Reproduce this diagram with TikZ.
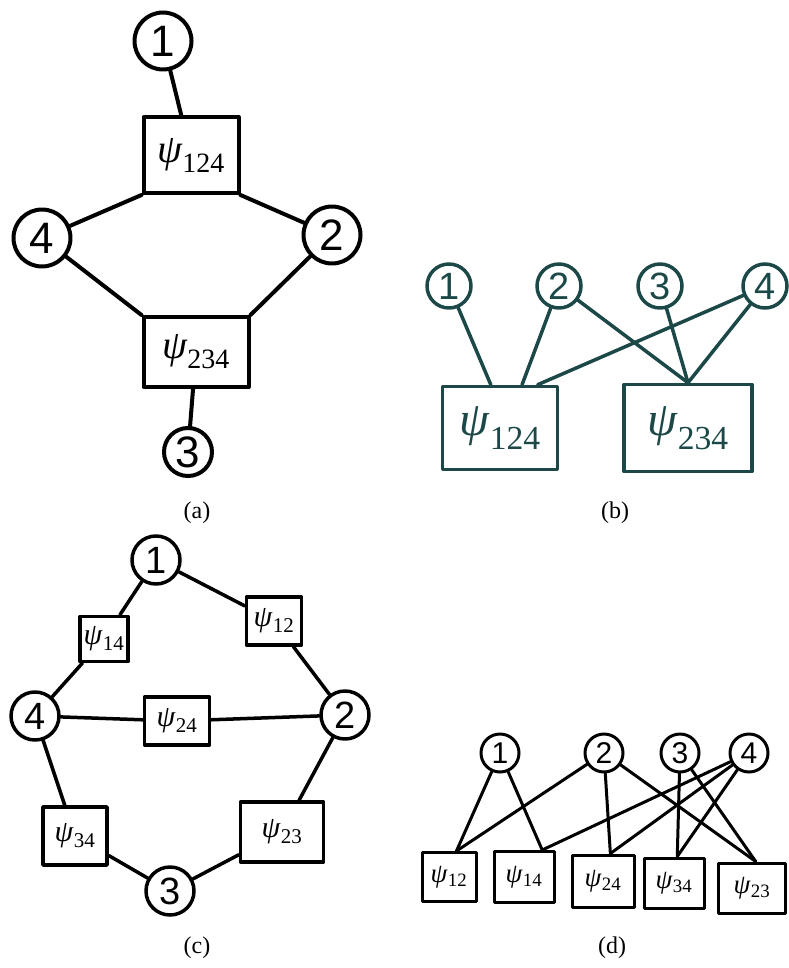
\documentclass[tikz,border=0pt]{standalone}
\usepackage{fontspec}
\setmainfont{Liberation Serif}
\setsansfont{Liberation Sans}
\usepackage{xcolor}
\usepackage{tikz}
\usetikzlibrary{positioning}
\definecolor{inkteal}{RGB}{28,72,72}
\newcommand{\fac}[1]{\textit{ψ}\textsubscript{#1}}
\tikzset{main node/.style={circle,fill=white,draw,minimum size=0.5cm,inner sep=0pt}}
\tikzset{factor node/.style={rectangle,fill=white,draw,minimum width=1cm,minimum height=1cm,inner sep=0pt}}
\tikzset{caption node/.style={font=\fontsize{24}{24}\selectfont}}

\begin{document}
\begin{tikzpicture}[x=1pt,y=-1pt,on grid,line cap=round,line join=round]
    \useasboundingbox (0,0) rectangle (788,968);

    % (a)
    \begin{scope}[line width=4pt,
        main node/.append style={minimum size=57pt,font=\sffamily\fontsize{44}{44}\selectfont},
        factor node/.append style={font=\fontsize{40}{40}\selectfont}]
    	\node[main node] (a_{1}) at (163,41) {1};
    	\node[factor node,minimum width=95pt,minimum height=76pt] (af_{124}) [below right=114pt and 28pt of a_{1}] {\fac{124}};
    	\node[main node] (a_{4}) [below left=83pt and 149pt of af_{124}] {4};
    	\node[main node] (a_{2}) [below right=80pt and 141pt of af_{124}] {2};
    	\node[factor node,minimum width=105pt,minimum height=70pt] (af_{234}) [below right=197pt and 5pt of af_{124}] {\fac{234}};
    	\node[main node,minimum size=48pt] (a_{3}) [below left=100pt and 8pt of af_{234}] {3};

    	\draw (a_{1}) -- (af_{124});
    	\draw (a_{4}) -- (af_{124}.south west);
    	\draw (af_{124}.south east) -- (a_{2});
    	\draw (a_{4}) -- (af_{234}.north west);
    	\draw (a_{2}) -- (af_{234}.north east);
    	\draw (af_{234}) -- (a_{3});
    \end{scope}

    % (b)
    \begin{scope}[color=inkteal,line width=3.5pt,
        main node/.append style={minimum size=44pt,font=\sffamily\fontsize{38}{38}\selectfont},
        factor node/.append style={font=\fontsize{48}{48}\selectfont}]
    	\node[main node] (b_{1}) at (449,286) {1};
    	\node[main node] (b_{2}) [right=110pt of b_{1}] {2};
    	\node[main node] (b_{3}) [right=101pt of b_{2}] {3};
    	\node[main node] (b_{4}) [right=105pt of b_{3}] {4};
    	\node[factor node,minimum width=115pt,minimum height=83pt] (bf_{124}) [below right=142pt and 51pt of b_{1}] {\fac{124}};
    	\node[factor node,minimum width=128pt,minimum height=87pt] (bf_{234}) [right=188pt of bf_{124}] {\fac{234}};

    	\draw (b_{1}) -- (bf_{124}.102);
    	\draw (b_{2}) -- (bf_{124}.63);
    	\draw (b_{4}) -- (bf_{124}.49);
    	\draw (b_{2}) -- (bf_{234}.north);
    	\draw (b_{3}) -- (bf_{234}.north);
    	\draw (b_{4}) -- (bf_{234}.north);
    \end{scope}

    % (c)
    \begin{scope}[line width=3.5pt,
        main node/.append style={minimum size=48pt,font=\sffamily\fontsize{38}{38}\selectfont},
        factor node/.append style={font=\fontsize{30}{30}\selectfont}]
    	\node[main node] (c_{1}) at (156,560) {1};
    	\node[factor node,minimum width=48pt,minimum height=45pt] (cf_{14}) [below left=79pt and 52pt of c_{1}] {\fac{14}};
    	\node[factor node,minimum width=55pt,minimum height=48pt] (cf_{12}) [below right=61pt and 118pt of c_{1}] {\fac{12}};
    	\node[main node] (c_{4}) [below left=77pt and 69pt of cf_{14}] {4};
    	\node[factor node,minimum width=65pt,minimum height=48pt] (cf_{24}) [below right=5pt and 142pt of c_{4}] {\fac{24}};
    	\node[main node] (c_{2}) [above right=6pt and 168pt of cf_{24}] {2};
    	\node[factor node,minimum width=64pt,minimum height=58pt] (cf_{34}) [below right=120pt and 40pt of c_{4}] {\fac{34}};
    	\node[factor node,minimum width=83pt,minimum height=60pt] (cf_{23}) [below left=117pt and 63pt of c_{2}] {\fac{23}};
    	\node[main node] (c_{3}) [below right=55pt and 95pt of cf_{34}] {3};

    	\draw (c_{1}) -- (cf_{14});
    	\draw (c_{1}) -- (cf_{12});
    	\draw (cf_{14}) -- (c_{4});
    	\draw (cf_{12}) -- (c_{2});
    	\draw (c_{4}) -- (cf_{24});
    	\draw (cf_{24}) -- (c_{2});
    	\draw (c_{4}) -- (cf_{34});
    	\draw (c_{2}) -- (cf_{23});
    	\draw (cf_{34}) -- (c_{3});
    	\draw (cf_{23}) -- (c_{3});
    \end{scope}

    % (d)
    \begin{scope}[line width=3pt,
        main node/.append style={minimum size=38pt,font=\sffamily\fontsize{30}{30}\selectfont},
        factor node/.append style={font=\fontsize{27}{27}\selectfont}]
    	\node[main node] (d_{1}) at (500,753) {1};
    	\node[main node] (d_{2}) [right=104pt of d_{1}] {2};
    	\node[main node] (d_{3}) [right=76pt of d_{2}] {3};
    	\node[main node] (d_{4}) [right=69pt of d_{3}] {4};
    	\node[factor node,minimum width=54pt,minimum height=49pt] (df_{12}) [below left=124pt and 51pt of d_{1}] {\fac{12}};
    	\node[factor node,minimum width=60pt,minimum height=51pt] (df_{14}) [right=75pt of df_{12}] {\fac{14}};
    	\node[factor node,minimum width=62pt,minimum height=52pt] (df_{24}) [below right=4pt and 79pt of df_{14}] {\fac{24}};
    	\node[factor node,minimum width=60pt,minimum height=50pt] (df_{34}) [below right=2pt and 71pt of df_{24}] {\fac{34}};
    	\node[factor node,minimum width=67pt,minimum height=50pt] (df_{23}) [below right=5pt and 78pt of df_{34}] {\fac{23}};

    	\draw (d_{1}) -- (df_{12}.74);
    	\draw (d_{2}) -- (df_{12}.74);
    	\draw (d_{1}) -- (df_{14}.56);
    	\draw (d_{4}) -- (df_{14}.56);
    	\draw (d_{2}) -- (df_{24}.75);
    	\draw (d_{4}) -- (df_{24}.75);
    	\draw (d_{3}) -- (df_{34}.83);
    	\draw (d_{4}) -- (df_{34}.83);
    	\draw (d_{2}) -- (df_{23}.82);
    	\draw (d_{3}) -- (df_{23}.82);
    \end{scope}

    \node[caption node] (cap_{a}) at (197,513) {(a)};
    \node[caption node] (cap_{b}) at (615,513) {(b)};
    \node[caption node] (cap_{c}) at (197,948) {(c)};
    \node[caption node] (cap_{d}) at (612,948) {(d)};
\end{tikzpicture}
\end{document}
